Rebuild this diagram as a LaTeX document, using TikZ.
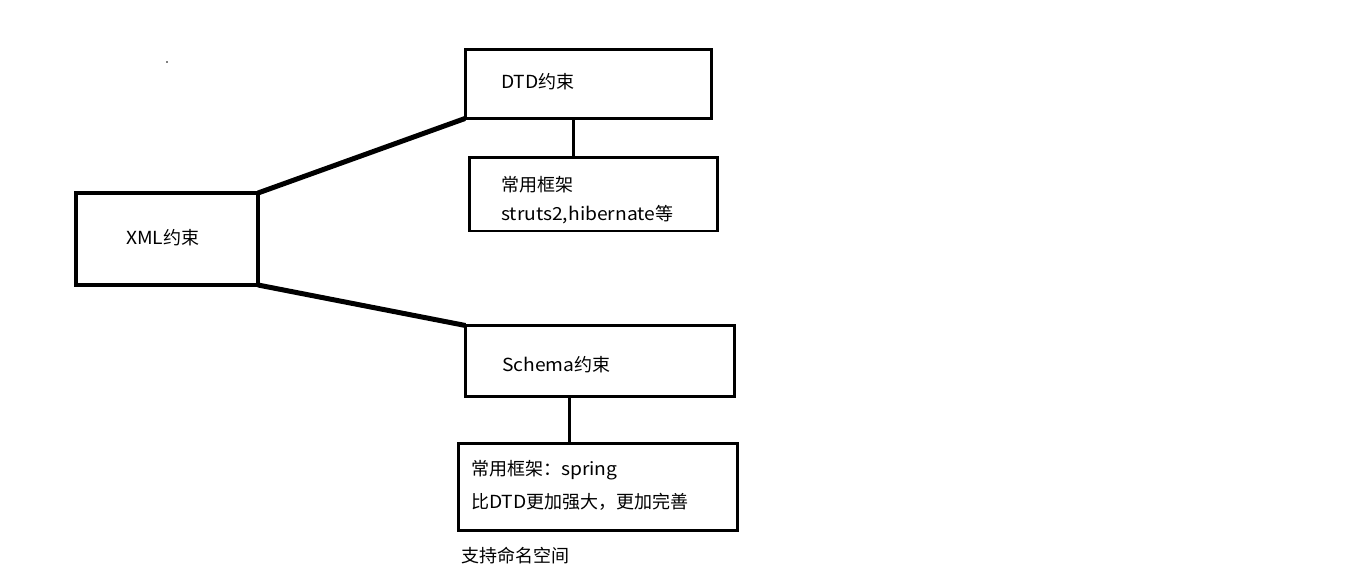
\documentclass[tikz,border=0pt]{standalone}
\usepackage{fontspec}
\setmainfont{Noto Sans CJK SC}
\newfontfamily\latf[FakeStretch=1.07]{Noto Sans CJK SC}
\newcommand{\lt}[1]{{\latf #1}}
\begin{document}
\begin{tikzpicture}[x=1pt,y=-1pt,
  box/.style={draw=black,rectangle,inner sep=0pt,outer sep=0pt,line width=3pt},
  txt/.style={anchor=west,inner sep=0pt,font=\fontsize{18}{22}\selectfont},
  conn/.style={line width=5pt},
  stem/.style={line width=3pt}]
\useasboundingbox (0,0) rectangle (1362,579);
\fill[gray] (166,61) rectangle (168,63);
\node[box,line width=4pt,minimum width=182pt,minimum height=92pt] (xml) at (167,239) {};
\node[box,minimum width=246pt,minimum height=69pt] (dtd) at (588,84) {};
\node[box,line width=2.5pt,minimum width=248pt,minimum height=73.5pt] (dtdc) at (593.5,194) {};
\node[box,minimum width=269pt,minimum height=71pt] (sch) at (600,361) {};
\node[box,minimum width=279pt,minimum height=87.5pt] (schc) at (598,487) {};
\node[txt] (xmlt) at (126,238) {\lt{XML}约束};
\node[txt] (dtdt) at (501,82) {\lt{DTD}约束};
\node[txt] (dtdc1) at (501,185) {常用框架};
\node[txt] (dtdc2) at (501,215) {\lt{struts2,hibernate}等};
\node[txt] (scht) at (502,365) {\lt{Schema}约束};
\node[txt] (schc1) at (471,470) {常用框架：\lt{spring}};
\node[txt] (schc2) at (471,502) {比\lt{DTD}更加强大，更加完善};
\node[txt] (ns) at (461,556) {支持命名空间};
\coordinate (s1) at (573,0);
\coordinate (s2) at (569,0);
\draw[conn] (xml.north east) -- (dtd.south west);
\draw[conn] (xml.south east) -- (sch.north west);
\draw[stem] (dtd.south -| s1) -- (dtdc.north -| s1);
\draw[stem] (sch.south -| s2) -- (schc.north -| s2);
\end{tikzpicture}
\end{document}
